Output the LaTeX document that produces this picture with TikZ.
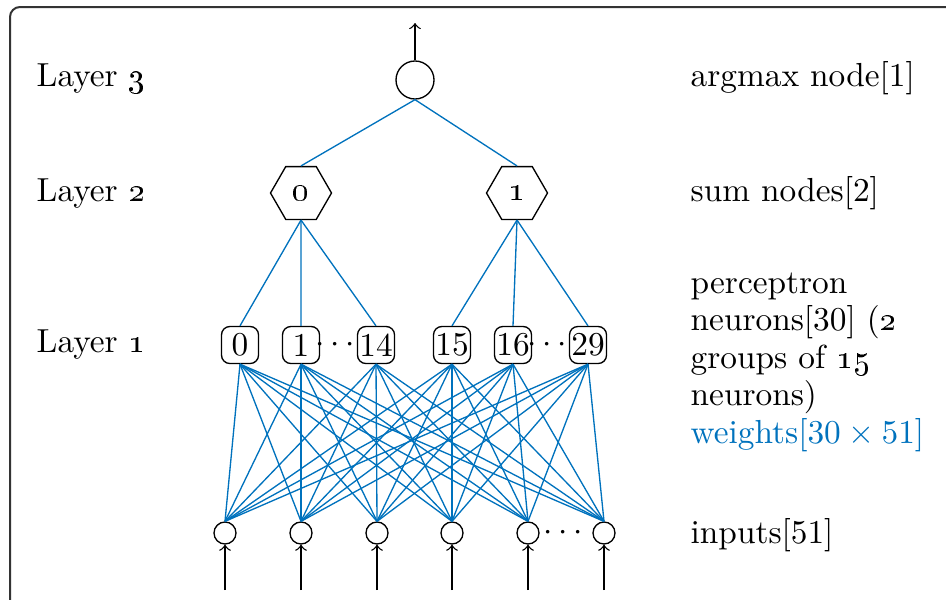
\documentclass[tikz,border=0pt]{standalone}
\usepackage{amsmath,amsfonts}
\usetikzlibrary{shapes.geometric, arrows}

\definecolor{wblue}{RGB}{0,114,189}

\begin{document}
\begin{tikzpicture}[x=0.3pt,y=-0.3pt,thin]

			\tikzstyle{every node}=[font=\fontsize{10}{11.25}\selectfont]

			\tikzstyle{argmax node}=[circle,draw,minimum size=11.4pt,inner sep=0pt]
			\tikzstyle{sum node}=[regular polygon,regular polygon sides=6,draw,minimum size=18.3pt,inner sep=0pt]
			\tikzstyle{neuron}=[rectangle,rounded corners=2.5pt,draw,minimum size=11.1pt,inner sep=0.5pt]
			\tikzstyle{input node}=[circle,draw,minimum size=6.6pt,inner sep=0pt]
			\tikzstyle{weight}=[color=wblue,line width=0.4pt]
			\tikzstyle{layer text}=[anchor=base west,inner sep=0pt]

			\useasboundingbox (0,0) rectangle (946,599);
			\draw[black!80,line width=0.6pt,rounded corners=3pt] (10,7) rectangle (1000,650);

			% layer 3
			\node[argmax node] (A) at (415,80) {};
			\coordinate (out) at (415,23);

			% layer 2
			\node[sum node] (S0) at (301,193) {\oldstylenums{0}};
			\node[sum node] (S1) at (517,193) {\oldstylenums{1}};

			% layer 1
			\node[neuron] (P0)  at (240,345) {0};
			\node[neuron] (P1)  at (301,345) {1};
			\node[neuron] (P14) at (376,345) {14};
			\node[neuron] (P15) at (452,345) {15};
			\node[neuron] (P16) at (513,345) {16};
			\node[neuron] (P29) at (588,345) {29};
			\node (D1) at (338,345) {$\cdots$};
			\node (D2) at (550,345) {$\cdots$};

			% inputs
			\foreach \x [count=\i from 0] in {225,301,377,452,528,604}{
				\node[input node] (I\i) at (\x,533) {};
				\coordinate (c\i) at (\x,590);
			}
			\node (D3) at (566,533) {$\cdots$};

			% texts
			\node[layer text] (L3) at (36,86)  {Layer \oldstylenums{3}};
			\node[layer text] (L2) at (36,201) {Layer \oldstylenums{2}};
			\node[layer text] (L1) at (36,352) {Layer \oldstylenums{1}};
			\node[layer text] (T3) at (690,86)  {argmax node[1]};
			\node[layer text] (T2) at (690,201) {sum nodes[2]};
			\node[layer text,align=left] (T1) at (690,443) {perceptron\\neurons[30] (\oldstylenums{2}\\groups of \oldstylenums{15}\\neurons)\\\textcolor{wblue}{weights[$30\times51$]}};
			\node[layer text] (T0) at (690,543) {inputs[51]};

			\draw[->] (A) -- (out);
			\foreach \i in {0,...,5}
				\draw[->] (c\i) -- (I\i);

			\path[weight] (A.south) edge (S0.north) edge (S1.north)
			(S0.south) edge (P0.north) edge (P1.north) edge (P14.north)
			(S1.south) edge (P15.north) edge (P16.north) edge (P29.north);

			\foreach \p in {0,1,14,15,16,29}
				\foreach \i in {0,...,5}
					\draw[weight] (P\p.south) -- (I\i.north);

		\end{tikzpicture}
\end{document}
